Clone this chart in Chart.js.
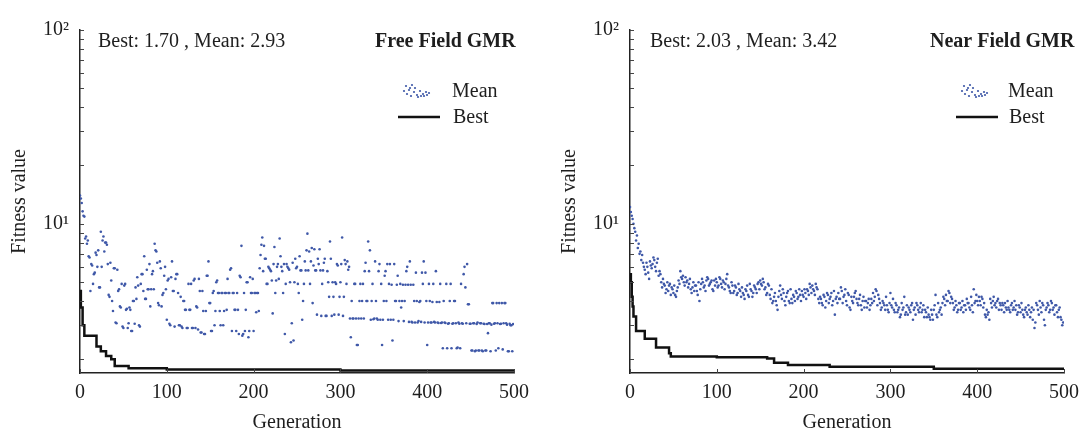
<!DOCTYPE html>
<html>
<head>
<meta charset="utf-8">
<script src="https://cdn.jsdelivr.net/npm/chart.js@4.4.1/dist/chart.umd.min.js"></script>
<style>
  body { margin: 0; background: #fff; }
  #panelIzq { position: absolute; left: 0; top: 0; }
  #panelDer { position: absolute; left: 550px; top: 0; }
</style>
</head>
<body>
<canvas id="panelIzq" width="543" height="435"></canvas>
<canvas id="panelDer" width="537" height="435"></canvas>
<script>
// Generaciones pares (0..498) e impares (1..499)
const generacionesPares = Array.from({ length: 250 }, (_, i) => i * 2);
const generacionesImpares = Array.from({ length: 250 }, (_, i) => i * 2 + 1);

// Free Field GMR - media de la poblacion (generaciones pares)
const mediaLibrePar = [
  14.0, 12.8, 11.0, 8.4, 7.9, 6.8, 4.5, 6.1, 5.5, 7.1,
  6.0, 4.7, 9.1, 8.2, 7.2, 8.0, 6.2, 4.2, 5.1, 3.55,
  5.9, 3.07, 4.5, 3.75, 4.9, 2.9, 4.9, 3.65, 3.07, 3.6,
  2.8, 4.0, 4.7, 5.3, 3.0, 4.9, 5.5, 6.8, 4.1, 4.6,
  6.2, 4.6, 5.7, 7.9, 7.2, 3.9, 6.4, 3.75, 4.4, 6.0,
  3.2, 5.2, 3.0, 6.4, 4.5, 5.2, 5.5, 3.0, 4.2, 2.9,
  4.0, 3.6, 2.9, 3.6, 4.9, 2.9, 5.2, 3.75, 2.85, 4.5,
  2.75, 3.55, 2.7, 5.4, 6.4, 3.9, 2.8, 4.5, 3.55, 5.1,
  4.4, 3.0, 4.4, 3.55, 4.4, 5.2, 4.4, 5.9, 4.4, 3.6,
  2.8, 3.6, 5.4, 7.7, 2.7, 2.8, 5.0, 2.6, 5.3, 4.4,
  2.8, 4.4, 4.4, 3.55, 6.9, 8.5, 7.7, 6.6, 4.9, 5.9,
  5.7, 3.45, 7.6, 5.1, 6.2, 8.4, 6.0, 4.4, 2.7, 6.2,
  5.9, 5.0, 3.07, 2.5, 6.6, 6.0, 4.4, 5.75, 3.2, 4.9,
  5.75, 8.9, 7.2, 6.4, 3.9, 7.4, 5.75, 6.6, 7.4, 3.35,
  5.75, 6.6, 3.35, 5.0, 8.1, 3.35, 4.2, 5.0, 6.2, 3.4,
  5.0, 8.5, 4.2, 6.2, 6.4, 6.0, 2.6, 3.25, 4.9, 3.25,
  2.37, 4.0, 3.25, 4.9, 5.7, 4.0, 8.1, 7.3, 4.0, 3.22,
  6.4, 3.25, 5.7, 3.2, 2.37, 4.0, 5.7, 6.2, 4.9, 3.2,
  2.5, 6.2, 4.0, 5.4, 4.0, 3.7, 4.85, 4.0, 5.7, 4.85,
  6.4, 3.12, 4.85, 3.1, 4.0, 3.15, 4.0, 5.6, 6.4, 5.6,
  2.37, 4.9, 3.1, 3.95, 3.12, 5.7, 3.1, 3.95, 3.08, 2.28,
  3.1, 4.9, 3.05, 4.0, 2.28, 3.07, 4.0, 2.28, 3.1, 2.28,
  3.07, 5.5, 4.7, 6.2, 3.85, 3.05, 2.22, 3.07, 2.22, 3.1,
  2.22, 3.07, 2.2, 3.04, 2.22, 2.73, 3.07, 3.02, 3.9, 3.07,
  3.9, 2.28, 3.04, 3.9, 3.07, 3.9, 3.02, 2.2, 3.0, 2.2
];
// Free Field GMR - media de la poblacion (generaciones impares)
const mediaLibreImpar = [
  13.5, 11.6, 10.9, 8.6, 8.2, 6.7, 6.2, 4.9, 5.6, 6.9,
  7.3, 4.7, 6.0, 8.6, 8.0, 7.8, 4.3, 6.3, 4.0, 5.9,
  3.1, 5.8, 4.6, 3.7, 2.95, 4.8, 3.6, 2.9, 3.7, 2.8,
  4.0, 3.05, 4.1, 4.8, 2.95, 5.5, 4.5, 4.1, 5.8, 4.6,
  3.75, 5.5, 4.6, 7.3, 6.3, 3.8, 5.9, 4.3, 5.4, 4.6,
  5.1, 3.05, 5.3, 4.5, 2.95, 5.5, 4.4, 3.0, 2.95, 4.0,
  3.6, 2.9, 4.9, 3.6, 2.9, 5.1, 2.9, 3.7, 5.2, 2.75,
  4.5, 2.7, 3.55, 5.4, 3.9, 2.8, 4.4, 3.0, 5.0, 4.4,
  3.55, 4.4, 3.0, 4.4, 3.6, 4.4, 5.8, 2.8, 4.4, 3.6,
  4.4, 2.7, 5.3, 2.65, 4.4, 3.6, 5.0, 2.8, 4.4, 5.2,
  4.4, 3.5, 4.4, 5.9, 7.8, 5.7, 6.6, 4.9, 6.0, 5.8,
  5.1, 6.2, 4.4, 6.0, 5.2, 6.8, 5.7, 6.2, 4.9, 6.0,
  5.8, 2.45, 6.3, 5.0, 5.9, 4.9, 6.8, 5.75, 4.0, 6.4,
  7.3, 5.75, 4.9, 7.5, 6.1, 5.75, 3.4, 6.2, 5.75, 4.9,
  6.3, 3.35, 5.7, 4.2, 6.6, 5.0, 3.4, 4.9, 6.1, 4.2,
  6.2, 3.35, 6.5, 4.9, 5.8, 3.25, 4.0, 3.25, 4.9, 2.37,
  3.25, 4.9, 4.0, 3.25, 6.3, 4.0, 5.7, 3.2, 4.9, 3.25,
  4.0, 3.2, 6.2, 4.9, 3.2, 5.4, 4.0, 3.2, 6.2, 4.85,
  3.2, 4.0, 4.85, 3.15, 4.9, 4.0, 3.15, 4.85, 6.0, 3.12,
  4.85, 3.1, 4.0, 5.6, 3.1, 3.95, 3.12, 4.9, 3.1, 4.0,
  3.1, 4.0, 3.1, 4.9, 3.1, 3.95, 3.08, 4.9, 3.1, 4.0,
  3.08, 2.28, 3.07, 4.9, 3.05, 4.0, 3.07, 2.3, 3.05, 4.9,
  3.05, 6.0, 3.07, 3.85, 3.05, 2.22, 3.07, 2.2, 3.04, 2.22,
  3.07, 2.22, 3.05, 2.22, 3.04, 3.07, 2.2, 3.9, 3.05, 2.22,
  3.07, 3.9, 3.05, 2.25, 3.9, 3.07, 2.2, 3.05, 3.0, 3.04
];
// Free Field GMR - mejor individuo (cambios de escalon)
const mejorLibreGen = [0, 1, 3, 5, 19, 24, 30, 36, 40, 56, 100, 300, 500];
const mejorLibreVal = [4.5, 3.7, 3.0, 2.65, 2.33, 2.2, 2.08, 2.0, 1.85, 1.8, 1.77, 1.75, 1.73];

// Near Field GMR - media de la poblacion (generaciones pares)
const mediaCercanoPar = [
  12.2, 11.0, 10.0, 9.1, 8.7, 7.9, 7.2, 6.9, 6.0, 5.5,
  6.0, 5.2, 6.1, 6.2, 6.5, 5.7, 6.6, 5.7, 5.0, 5.2,
  4.8, 4.6, 4.5, 4.9, 4.7, 4.4, 4.3, 4.5, 5.1, 5.7,
  5.2, 5.0, 5.3, 5.1, 4.9, 4.6, 4.7, 4.5, 4.8, 4.3,
  4.0, 4.9, 5.0, 4.8, 5.1, 5.2, 4.9, 5.1, 4.5, 4.8,
  5.0, 4.8, 5.2, 4.7, 5.0, 4.9, 5.5, 4.7, 4.4, 4.8,
  4.5, 4.7, 4.4, 4.6, 4.2, 4.4, 4.1, 4.5, 4.3, 4.9,
  4.5, 4.4, 4.7, 4.4, 5.0, 5.1, 4.8, 5.0, 4.7, 4.4,
  4.8, 4.1, 3.9, 4.2, 4.0, 3.6, 4.5, 4.3, 4.6, 4.0,
  4.2, 4.5, 3.9, 4.1, 4.3, 4.0, 4.4, 4.2, 4.3, 4.5,
  4.2, 4.4, 4.6, 4.3, 4.7, 4.8, 4.5, 4.9, 4.6, 3.9,
  4.1, 3.8, 4.2, 4.0, 4.3, 4.1, 4.4, 4.0, 3.4, 4.2,
  4.4, 4.1, 4.5, 4.2, 4.6, 3.8, 4.3, 3.6, 4.0, 4.2,
  4.5, 3.9, 4.1, 3.8, 4.0, 3.7, 4.0, 3.9, 3.6, 4.1,
  4.4, 4.2, 4.5, 4.3, 3.9, 3.7, 3.9, 3.6, 3.8, 3.5,
  4.4, 3.7, 3.6, 3.9, 3.5, 3.7, 3.4, 3.6, 4.2, 3.5,
  3.4, 3.6, 3.8, 3.2, 3.7, 3.9, 3.6, 3.7, 3.5, 3.8,
  3.6, 3.3, 3.4, 3.2, 3.4, 3.6, 4.3, 3.3, 3.5, 3.7,
  3.9, 4.1, 4.3, 4.0, 4.4, 4.2, 3.9, 3.7, 3.8, 3.6,
  3.9, 3.7, 3.5, 3.8, 4.1, 3.9, 3.6, 3.8, 4.6, 4.0,
  4.0, 4.2, 3.8, 4.1, 3.9, 3.3, 3.4, 3.2, 3.9, 4.0,
  3.8, 3.7, 4.1, 3.9, 3.6, 3.8, 3.9, 3.6, 3.7, 3.5,
  3.9, 3.7, 3.6, 3.4, 3.8, 3.5, 3.6, 3.3, 3.7, 3.4,
  3.6, 3.5, 3.2, 2.9, 3.9, 3.6, 4.0, 3.5, 3.8, 3.0,
  3.7, 3.8, 3.6, 3.9, 3.7, 3.8, 3.5, 3.6, 3.3, 3.0
];
// Near Field GMR - media de la poblacion (generaciones impares)
const mediaCercanoImpar = [
  11.5, 10.6, 9.5, 8.2, 7.5, 7.0, 6.5, 6.3, 5.8, 6.3,
  5.6, 6.4, 5.9, 6.7, 6.0, 6.3, 5.4, 5.5, 4.7, 4.9,
  4.4, 5.0, 4.8, 4.3, 4.6, 4.8, 4.2, 4.7, 4.9, 5.3,
  5.4, 4.8, 5.0, 4.7, 5.2, 4.4, 5.0, 4.8, 4.5, 5.0,
  4.6, 5.2, 4.7, 4.5, 5.3, 4.8, 5.0, 4.6, 5.1, 5.2,
  4.7, 5.3, 4.9, 5.1, 4.6, 5.2, 4.8, 4.5, 5.0, 4.4,
  4.8, 4.3, 4.9, 4.5, 4.7, 4.3, 4.6, 4.8, 4.2, 4.6,
  4.2, 4.8, 4.6, 4.9, 4.6, 4.9, 5.2, 4.6, 4.3, 4.9,
  4.3, 4.6, 4.0, 4.4, 3.8, 4.2, 4.8, 4.1, 4.4, 3.8,
  4.4, 4.0, 4.6, 3.9, 4.2, 4.5, 4.1, 4.6, 4.0, 4.3,
  4.6, 4.1, 4.5, 4.9, 4.4, 4.6, 4.3, 4.7, 4.1, 4.2,
  3.9, 4.3, 3.7, 4.4, 3.9, 4.2, 3.8, 4.5, 4.1, 3.9,
  4.1, 4.7, 3.9, 4.3, 4.0, 4.4, 3.7, 4.2, 3.9, 4.4,
  4.1, 3.8, 4.3, 3.6, 4.2, 4.0, 3.7, 4.1, 3.8, 3.9,
  4.0, 4.6, 3.8, 4.1, 3.6, 4.0, 3.8, 4.2, 3.6, 3.9,
  3.8, 4.1, 3.5, 3.8, 3.6, 3.3, 3.9, 3.7, 3.4, 3.8,
  3.7, 3.5, 3.9, 3.6, 3.4, 3.8, 3.5, 3.9, 3.6, 3.3,
  3.5, 3.7, 3.3, 3.6, 3.2, 3.8, 3.4, 3.9, 3.6, 3.4,
  4.2, 3.8, 4.0, 4.5, 3.9, 4.1, 3.6, 4.0, 3.5, 3.9,
  3.6, 4.0, 3.8, 3.6, 3.9, 3.7, 4.2, 3.5, 3.9, 4.3,
  3.8, 4.0, 4.2, 3.7, 3.4, 3.6, 3.5, 4.1, 3.7, 4.2,
  3.9, 4.0, 3.6, 3.8, 3.9, 3.5, 3.7, 4.0, 3.6, 3.8,
  3.6, 4.0, 3.8, 3.5, 3.7, 3.9, 3.4, 3.6, 3.5, 3.8,
  3.3, 3.7, 3.6, 3.1, 3.8, 3.4, 3.7, 3.9, 3.2, 3.6,
  3.9, 3.5, 4.0, 3.6, 3.4, 3.8, 3.3, 3.7, 3.2, 3.1
];
// Near Field GMR - mejor individuo (cambios de escalon)
const mejorCercanoGen = [0, 1, 2, 3, 4, 7, 17, 30, 45, 47, 100, 158, 166, 182, 230, 350, 500];
const mejorCercanoVal = [5.5, 5.0, 4.2, 3.75, 3.33, 2.8, 2.55, 2.3, 2.15, 2.07, 2.05, 2.02, 1.92, 1.87, 1.83, 1.79, 1.76];

// Marcas del eje Y logaritmico
const marcasY = [2, 3, 4, 5, 6, 7, 8, 9, 10, 20, 30, 40, 50, 60, 70, 80, 90, 100];

const fuente = '"Liberation Serif", "Times New Roman", serif';
const colorTexto = '#1e1e1e';
const colorMedia = '#3f58a8';

// Dibuja las marcas hacia dentro del grafico (estilo MATLAB)
const marcasInternas = {
    id: 'marcasInternas',
    afterDatasetsDraw(chart) {
        const { ctx, chartArea, scales } = chart;
        ctx.save();
        ctx.strokeStyle = '#444';
        ctx.lineWidth = 1;
        scales.y.ticks.forEach(t => {
            const y = Math.round(scales.y.getPixelForValue(t.value)) + 0.5;
            ctx.beginPath();
            ctx.moveTo(chartArea.left, y);
            ctx.lineTo(chartArea.left + 4, y);
            ctx.stroke();
        });
        scales.x.ticks.forEach(t => {
            const x = Math.round(scales.x.getPixelForValue(t.value)) + 0.5;
            ctx.beginPath();
            ctx.moveTo(x, chartArea.bottom);
            ctx.lineTo(x, chartArea.bottom - 4);
            ctx.stroke();
        });
        ctx.restore();
    }
};

// Textos de cabecera y leyenda dentro del area
const puntosLeyenda = [[-12, -6], [-9, -2], [-6, -7], [-11, 2], [-4, 0], [-1, 3], [2, -1], [5, 2],
    [8, 0], [11, 1], [-7, 4], [0, 5], [3, 4], [6, 4], [-14, -1], [-3, -4], [9, 3], [-8, -4]];
const anotaciones = {
    id: 'anotaciones',
    afterDraw(chart, args, opts) {
        const ctx = chart.ctx;
        ctx.save();
        ctx.fillStyle = colorTexto;
        ctx.textBaseline = 'middle';
        ctx.textAlign = 'left';
        ctx.font = `20px ${fuente}`;
        ctx.fillText(opts.estadistica, opts.xEstadistica, 42);
        ctx.font = `bold 20px ${fuente}`;
        ctx.fillText(opts.titulo, opts.xTitulo, 42);

        // leyenda
        ctx.font = `20px ${fuente}`;
        ctx.fillText('Mean', opts.xTextoLeyenda, 92);
        ctx.fillText('Best', opts.xTextoLeyenda + 1, 118);
        ctx.fillStyle = colorMedia;
        puntosLeyenda.forEach(([dx, dy]) => {
            ctx.beginPath();
            ctx.arc(opts.xSimbolo + dx, 92 + dy, 1.1, 0, Math.PI * 2);
            ctx.fill();
        });
        ctx.strokeStyle = '#111';
        ctx.lineWidth = 2.5;
        ctx.beginPath();
        ctx.moveTo(opts.xSimbolo - 20, 117);
        ctx.lineTo(opts.xSimbolo + 22, 117);
        ctx.stroke();
        ctx.restore();
    }
};

const crearPanel = (id, mediaPar, mediaImpar, mejorGen, mejorVal, textos, padDer) => {
    const ctx = document.getElementById(id).getContext('2d');
    const puntosMedia = generacionesPares.map((g, i) => ({ x: g, y: mediaPar[i] }))
        .concat(generacionesImpares.map((g, i) => ({ x: g, y: mediaImpar[i] })));
    return new Chart(ctx, {
        type: 'scatter',
        data: {
            datasets: [{
                label: 'Mean',
                data: puntosMedia,
                pointRadius: 1.3,
                pointHoverRadius: 0,
                borderWidth: 0,
                backgroundColor: colorMedia
            }, {
                type: 'line',
                label: 'Best',
                data: mejorGen.map((g, i) => ({ x: g, y: mejorVal[i] })),
                showLine: true,
                stepped: true,
                borderColor: '#111',
                borderWidth: 2.5,
                pointRadius: 0,
                fill: false
            }]
        },
        options: {
            responsive: false,
            animation: false,
            devicePixelRatio: 1,
            layout: { padding: { top: 30, right: padDer, left: 0, bottom: 0 } },
            plugins: {
                legend: { display: false },
                tooltip: { enabled: false },
                anotaciones: textos
            },
            scales: {
                x: {
                    type: 'linear',
                    min: 0,
                    max: 500,
                    afterFit: (s) => { s.height = 62; },
                    ticks: { stepSize: 100, padding: 8, color: colorTexto, font: { family: fuente, size: 20 } },
                    grid: { drawOnChartArea: false, drawTicks: false },
                    border: { color: '#222', width: 1.5 },
                    title: {
                        display: true,
                        text: 'Generation',
                        color: colorTexto,
                        padding: { top: 0, bottom: 0 },
                        font: { family: fuente, size: 20 }
                    }
                },
                y: {
                    type: 'logarithmic',
                    min: 1.7,
                    max: 100,
                    afterFit: (s) => { s.width = 80; },
                    afterBuildTicks: (s) => { s.ticks = marcasY.map(v => ({ value: v })); },
                    ticks: {
                        autoSkip: false,
                        padding: 11,
                        color: colorTexto,
                        font: { family: fuente, size: 20 },
                        callback: (v) => v === 10 ? '10\u00B9' : (v === 100 ? '10\u00B2' : '')
                    },
                    grid: { drawOnChartArea: false, drawTicks: false },
                    border: { color: '#222', width: 1.5 },
                    title: {
                        display: true,
                        text: 'Fitness value',
                        color: colorTexto,
                        padding: { top: 8, bottom: 0 },
                        font: { family: fuente, size: 20 }
                    }
                }
            }
        },
        plugins: [marcasInternas, anotaciones]
    });
};

crearPanel('panelIzq', mediaLibrePar, mediaLibreImpar, mejorLibreGen, mejorLibreVal, {
    estadistica: 'Best: 1.70 , Mean: 2.93',
    titulo: 'Free Field GMR',
    xEstadistica: 98,
    xTitulo: 375,
    xSimbolo: 418,
    xTextoLeyenda: 452
}, 29);

crearPanel('panelDer', mediaCercanoPar, mediaCercanoImpar, mejorCercanoGen, mejorCercanoVal, {
    estadistica: 'Best: 2.03 , Mean: 3.42',
    titulo: 'Near Field GMR',
    xEstadistica: 100,
    xTitulo: 380,
    xSimbolo: 426,
    xTextoLeyenda: 458
}, 22);
</script>
</body>
</html>
